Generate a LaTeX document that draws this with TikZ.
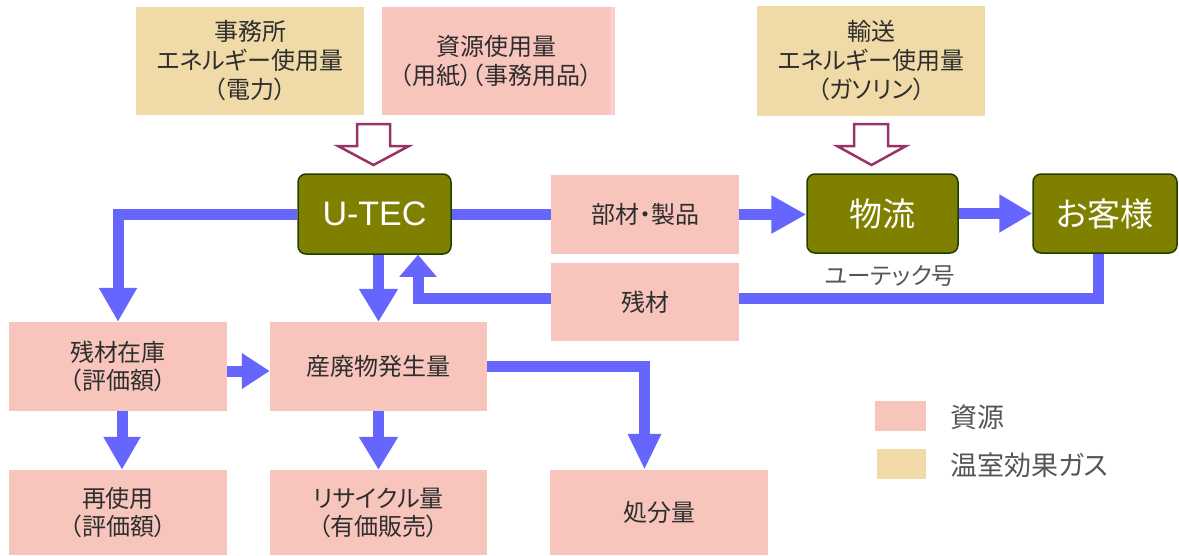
\documentclass[tikz,border=0pt]{standalone}
\usepackage{fontspec}
\setmainfont{Noto Sans CJK JP}[RawFeature=+palt]
\newfontfamily\latinfont{Liberation Sans}
\usetikzlibrary{arrows.meta}
\definecolor{pinkbox}{HTML}{F8C5BC}
\definecolor{pinklight}{HTML}{FCCDCB}
\definecolor{tanbox}{HTML}{F0DAA8}
\definecolor{flowblue}{HTML}{6666FF}
\definecolor{olivebox}{HTML}{808000}
\definecolor{olivedge}{HTML}{1E3F00}
\definecolor{hollowpurple}{HTML}{993366}
\definecolor{textdark}{HTML}{2E2E2E}
\definecolor{textgray}{HTML}{555555}
\tikzset{
  resbox/.style={fill=pinkbox, draw=none, inner sep=0pt, align=center, text=textdark, font=\fontsize{24}{28}\selectfont},
  ghgbox/.style={fill=tanbox, draw=none, inner sep=0pt, align=center, text=textdark, font=\fontsize{24}{29}\selectfont},
  actor/.style={fill=olivebox, draw=olivedge, line width=1.5pt, rounded corners=8pt, text=white, inner sep=0pt, font=\fontsize{33}{36}\selectfont},
  flow/.style={draw=flowblue, line width=11pt, line join=miter},
  flowarrow/.style={flow, -{Triangle[width=36pt,length=33pt]}},
  hollow/.style={draw=hollowpurple, fill=white, line width=2.5pt, line join=miter},
  legendsq/.style={draw=none, inner sep=0pt},
  legendtxt/.style={anchor=west, inner sep=0pt, text=textgray, font=\fontsize{27}{30}\selectfont},
}
\begin{document}
\begin{tikzpicture}[x=1pt,y=-1pt]
\useasboundingbox (0,0) rectangle (1179,555);

% top input boxes
\node[ghgbox, minimum width=228pt, minimum height=108pt] (office) at (250,61) {事務所\\エネルギー使用量\\（電力）};
\node[resbox, font=\fontsize{24}{29}\selectfont, minimum width=228pt, minimum height=108pt] (res) at (496,61) {資源使用量\\（用紙）（事務用品）};
\fill[pinklight] (res.north east) rectangle ([xshift=5pt]res.south east);
\node[ghgbox, minimum width=228pt, minimum height=110pt] (trans) at (871,61) {輸送\\エネルギー使用量\\（ガソリン）};

% hollow input arrows
\draw[hollow] (357,124) -- (390,124) -- (390,146) -- (409,146) -- (373.5,165) -- (338,146) -- (357,146) -- cycle;
\draw[hollow] (854,124) -- (888,124) -- (888,146) -- (906,146) -- (871.5,165) -- (837,146) -- (854,146) -- cycle;

% actors
\node[actor, minimum width=153pt, minimum height=80pt] (utec) at (374.5,214) {\latinfont\fontsize{34}{36}\selectfont U-TEC};
\node[actor, minimum width=151pt, minimum height=79pt] (butsuryu) at (882.5,213.5) {物流};
\node[actor, minimum width=144pt, minimum height=79pt] (kyaku) at (1105,213.5) {お客様};
\node[text=textgray, inner sep=0pt, font=\fontsize{23.5}{26}\selectfont] (truck) at (890,276) {ユーテック号};

% middle resource boxes
\node[resbox, minimum width=188pt, minimum height=79pt] (parts) at (645,214.5) {部材・製品};
\node[resbox, minimum width=188pt, minimum height=78pt] (zanzai) at (645,302) {残材};

% lower boxes
\node[resbox, minimum width=218pt, minimum height=89pt] (stock) at (118,366.5) {残材在庫\\（評価額）};
\node[resbox, minimum width=217pt, minimum height=89pt] (waste) at (378.5,366.5) {産廃物発生量};
\node[resbox, minimum width=218pt, minimum height=85pt] (reuse) at (118,512.5) {再使用\\（評価額）};
\node[resbox, minimum width=217pt, minimum height=85pt] (recycle) at (378.5,512.5) {リサイクル量\\（有価販売）};
\node[resbox, minimum width=218pt, minimum height=85pt] (disposal) at (659,512.5) {処分量};

% flows
\draw[flow] (utec.east) -- (utec.east -| parts.west);
\draw[flowarrow, -{Triangle[width=36pt,length=35pt]}] (parts.east) -- (parts.east -| butsuryu.west);
\draw[flowarrow] (butsuryu.east) -- (butsuryu.east -| kyaku.west);
\draw[flow] ([xshift=-7pt]kyaku.south) |- ([yshift=4pt]zanzai.east);
\draw[flowarrow, -{Triangle[width=36pt,length=22pt]}] ([yshift=4pt]zanzai.west) -| ([xshift=43.5pt]utec.south);
\draw[flowarrow, -{Triangle[width=37pt,length=33pt]}] (waste.north |- utec.south) -- (waste.north);
\draw[flowarrow, -{Triangle[width=36pt,length=34pt]}] (utec.west) -| (stock.north);
\draw[flowarrow, -{Triangle[width=34pt,length=28pt]}] ([yshift=-4.5pt]stock.east) -- ([yshift=-4.5pt]waste.west);
\draw[flowarrow, -{Triangle[width=35pt,length=33pt]}] ([xshift=4pt]stock.south) -- ([xshift=4pt]reuse.north);
\draw[flowarrow, -{Triangle[width=37pt,length=33pt]}] (waste.south) -- (recycle.north);
\draw[flowarrow, -{Triangle[width=31pt,length=36pt]}] (waste.east) -| ([xshift=-14.5pt]disposal.north);

% legend
\node[legendsq, fill=pinkbox, minimum width=51pt, minimum height=30pt] (legres) at (900.5,416) {};
\node[legendsq, fill=tanbox, minimum width=49pt, minimum height=30pt] (legghg) at (901.5,464) {};
\node[legendtxt] (legrestxt) at (950,417) {資源};
\node[legendtxt] (legghgtxt) at (950,465) {温室効果ガス};
\end{tikzpicture}
\end{document}
